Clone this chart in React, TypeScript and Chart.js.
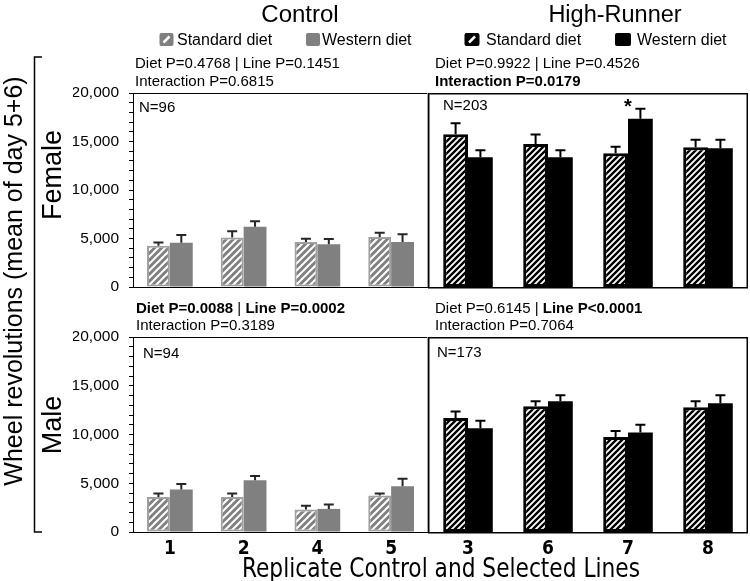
import React, { useEffect, useRef } from 'react';
import { Chart, registerables } from 'chart.js';

Chart.register(...registerables);

// ---------------- data ----------------
const controlLines = ['1', '2', '4', '5'];
const highRunnerLines = ['3', '6', '7', '8'];

const femaleControlStandard = [4250, 5100, 4650, 5150];
const femaleControlStandardSE = [350, 650, 330, 450];
const femaleControlWestern = [4550, 6200, 4400, 4650];
const femaleControlWesternSE = [800, 580, 560, 780];

const femaleHRStandard = [15750, 14750, 13800, 14400];
const femaleHRStandardSE = [1130, 960, 650, 790];
const femaleHRWestern = [13370, 13370, 17350, 14300];
const femaleHRWesternSE = [720, 720, 1030, 890];

const maleControlStandard = [3600, 3600, 2300, 3750];
const maleControlStandardSE = [350, 350, 400, 200];
const maleControlWestern = [4350, 5300, 2370, 4700];
const maleControlWesternSE = [580, 450, 450, 750];

const maleHRStandard = [11700, 12900, 9750, 12800];
const maleHRStandardSE = [650, 510, 615, 615];
const maleHRWestern = [10650, 13400, 10200, 13200];
const maleHRWesternSE = [750, 615, 790, 820];

const yLabelledTicks = [0, 5000, 10000, 15000, 20000];
const yMin = 0;
const yMax = 20000;
const yMinorStep = 1000;

const femaleSignificantIndex = 2; // line 7, western diet (*)

const seriesNames = ['Standard diet', 'Western diet'];

// ---------------- styling ----------------
const FONT = '"Liberation Sans", Arial, Helvetica, sans-serif';
const NARROW = '"Liberation Sans Narrow", "Arial Narrow", "DejaVu Sans Condensed", "Liberation Sans", sans-serif';
const GRAY = '#808080';

function hatch(bg: string, fg: string, size: number, lw: number) {
  const c = document.createElement('canvas');
  c.width = size;
  c.height = size;
  const g = c.getContext('2d')!;
  g.fillStyle = bg;
  g.fillRect(0, 0, size, size);
  g.strokeStyle = fg;
  g.lineWidth = lw;
  g.beginPath();
  g.moveTo(0, size);
  g.lineTo(size, 0);
  g.moveTo(-2, 2);
  g.lineTo(2, -2);
  g.moveTo(size - 2, size + 2);
  g.lineTo(size + 2, size - 2);
  g.stroke();
  return g.createPattern(c, 'repeat')!;
}

type PanelProps = {
  x: number;
  y: number;
  w: number;
  h: number;
  labels: string[];
  std: number[];
  stdSE: number[];
  west: number[];
  westSE: number[];
  line: 'control' | 'hr';
  showX: boolean;
  pad: { left: number; right: number; top: number; bottom: number };
  star?: number;
};

function Panel(p: PanelProps) {
  const ref = useRef<HTMLCanvasElement | null>(null);
  useEffect(() => {
    const canvas = ref.current!;
    const isC = p.line === 'control';
    const stdFill = isC ? hatch(GRAY, '#ffffff', 7, 2) : hatch('#ffffff', '#000000', 6, 2.4);
    const errColor = isC ? '#262626' : '#000000';

    const errPlugin = {
      id: 'errbars',
      afterDatasetsDraw(chart: any) {
        const ctx = chart.ctx;
        const ys = chart.scales.y;
        const xs = chart.scales.x;
        const ses = [p.stdSE, p.westSE];
        chart.data.datasets.forEach((ds: any, di: number) => {
          const meta = chart.getDatasetMeta(di);
          meta.data.forEach((bar: any, i: number) => {
            const v = ds.data[i];
            const e = ses[di][i];
            const yb = ys.getPixelForValue(v);
            const yt = ys.getPixelForValue(v + e);
            ctx.save();
            ctx.strokeStyle = errColor;
            ctx.lineWidth = 2;
            ctx.beginPath();
            ctx.moveTo(bar.x, yb);
            ctx.lineTo(bar.x, yt);
            ctx.moveTo(bar.x - 5, yt);
            ctx.lineTo(bar.x + 5, yt);
            ctx.stroke();
            if (p.star === i && di === 1) {
              ctx.fillStyle = '#000';
              ctx.font = 'bold 20px ' + FONT;
              ctx.textAlign = 'center';
              ctx.textBaseline = 'alphabetic';
              ctx.fillText('*', xs.getPixelForValue(i), yt + 4);
            }
            ctx.restore();
          });
        });
      },
    };

    const boxPlugin = {
      id: 'box',
      afterDraw(chart: any) {
        const ctx = chart.ctx;
        const a = chart.chartArea;
        ctx.save();
        ctx.lineWidth = 1;
        if (isC) {
          ctx.strokeStyle = '#000';
          ctx.beginPath();
          ctx.moveTo(a.left, a.top + 0.5);
          ctx.lineTo(a.right, a.top + 0.5);
          ctx.moveTo(a.left, a.bottom + 0.5);
          ctx.lineTo(a.right, a.bottom + 0.5);
          ctx.stroke();
          ctx.strokeStyle = '#a6a6a6';
          ctx.beginPath();
          ctx.moveTo(a.right - 0.5, a.top);
          ctx.lineTo(a.right - 0.5, a.bottom);
          ctx.stroke();
        } else {
          ctx.strokeStyle = '#000';
          ctx.lineWidth = 1.5;
          ctx.strokeRect(a.left + 0.75, a.top + 0.75, a.right - a.left - 1.5, a.bottom - a.top);
        }
        ctx.restore();
      },
    };

    const chart = new Chart(canvas, {
      type: 'bar',
      data: {
        labels: p.labels,
        datasets: [
          {
            label: seriesNames[0],
            data: p.std,
            backgroundColor: stdFill as any,
            borderColor: isC ? '#a0a0a0' : '#000000',
            borderWidth: isC ? 2 : 3,
            borderSkipped: false,
            categoryPercentage: 0.62,
            barPercentage: 1.0,
          },
          {
            label: seriesNames[1],
            data: p.west,
            backgroundColor: isC ? GRAY : '#000000',
            borderWidth: 0,
            categoryPercentage: 0.62,
            barPercentage: 1.0,
          },
        ],
      },
      options: {
        responsive: false,
        animation: false,
        events: [],
        layout: { padding: p.pad },
        plugins: {
          legend: { display: false },
          tooltip: { enabled: false },
          title: { display: false },
        },
        scales: {
          x: {
            type: 'category',
            display: p.showX,
            grid: { display: false, drawTicks: false },
            border: { display: false },
            ticks: {
              display: p.showX,
              color: '#000',
              padding: p.showX ? 6 : 0,
              font: { family: NARROW, size: 19, weight: 'bold' },
            },
            afterFit: (s: any) => {
              s.height = p.showX ? 49 : 0;
            },
          },
          y: {
            display: isC,
            min: yMin,
            max: yMax,
            ticks: {
              stepSize: yMinorStep,
              autoSkip: false,
              color: '#000',
              padding: 10,
              font: { family: FONT, size: 15.5 },
              callback: (v: any) =>
                yLabelledTicks.includes(Number(v)) ? Number(v).toLocaleString('en-US') : '',
            },
            grid: {
              drawOnChartArea: false,
              drawTicks: true,
              tickLength: 4,
              color: '#000',
            },
            border: { display: true, color: '#000', width: 1 },
            afterFit: (s: any) => {
              s.width = isC ? 60 : 0;
            },
          },
        },
      } as any,
      plugins: [errPlugin, boxPlugin],
    });
    return () => chart.destroy();
  }, []);
  return (
    <canvas
      ref={ref}
      width={p.w}
      height={p.h}
      style={{ position: 'absolute', left: p.x, top: p.y, width: p.w, height: p.h }}
    />
  );
}

function Swatch({ x, y, w, fill, slash }: { x: number; y: number; w: number; fill: string; slash?: boolean }) {
  return (
    <g>
      <rect x={x} y={y} width={w} height={13} rx={2} fill={fill} />
      {slash ? (
        <line x1={x + w / 2 - 3} y1={y + 9.5} x2={x + w / 2 + 3} y2={y + 3.5} stroke="#fff" strokeWidth={2.5} />
      ) : null}
    </g>
  );
}

export default function App() {
  // female canvases are 307 tall; chart area spans 93..287
  const ctlPadF = { left: 73, right: 4, top: 93, bottom: 20 };
  const hrPadF = { left: 8, right: 2, top: 93, bottom: 20 };
  // male canvases start at 300; chart area spans 337..532
  const ctlPadM = { left: 73, right: 4, top: 37, bottom: 0 };
  const hrPadM = { left: 8, right: 2, top: 37, bottom: 0 };
  return (
    <div
      style={{
        position: 'fixed',
        left: 0,
        top: 0,
        width: 750,
        height: 581,
        background: '#fff',
        overflow: 'hidden',
      }}
    >
      <Panel x={0} y={0} w={432} h={307} labels={controlLines} std={femaleControlStandard} stdSE={femaleControlStandardSE}
        west={femaleControlWestern} westSE={femaleControlWesternSE} line="control" showX={false} pad={ctlPadF} />
      <Panel x={420} y={0} w={330} h={307} labels={highRunnerLines} std={femaleHRStandard} stdSE={femaleHRStandardSE}
        west={femaleHRWestern} westSE={femaleHRWesternSE} line="hr" showX={false} pad={hrPadF} star={femaleSignificantIndex} />
      <Panel x={0} y={300} w={432} h={281} labels={controlLines} std={maleControlStandard} stdSE={maleControlStandardSE}
        west={maleControlWestern} westSE={maleControlWesternSE} line="control" showX={true} pad={ctlPadM} />
      <Panel x={420} y={300} w={330} h={281} labels={highRunnerLines} std={maleHRStandard} stdSE={maleHRStandardSE}
        west={maleHRWestern} westSE={maleHRWesternSE} line="hr" showX={true} pad={hrPadM} />

      <svg width={750} height={581} style={{ position: 'absolute', left: 0, top: 0, pointerEvents: 'none' }}
        fontFamily={FONT} fill="#000">
        <text x={300} y={22} fontSize={24} textAnchor="middle">Control</text>
        <text x={615} y={22} fontSize={23.5} textAnchor="middle">High-Runner</text>

        <Swatch x={159.5} y={33} w={14} fill={GRAY} slash />
        <text x={177} y={45} fontSize={16}>{seriesNames[0]}</text>
        <Swatch x={306} y={33} w={14} fill={GRAY} />
        <text x={322} y={45} fontSize={16}>{seriesNames[1]}</text>
        <Swatch x={464.5} y={33} w={15} fill="#000" slash />
        <text x={486} y={45} fontSize={16}>{seriesNames[0]}</text>
        <Swatch x={615} y={33} w={16} fill="#000" />
        <text x={637} y={45} fontSize={16}>{seriesNames[1]}</text>

        <text x={135} y={68} fontSize={15}>Diet P=0.4768 | Line P=0.1451</text>
        <text x={135} y={86} fontSize={15}>Interaction P=0.6815</text>
        <text x={435} y={68} fontSize={15}>Diet P=0.9922 | Line P=0.4526</text>
        <text x={435} y={86} fontSize={15} fontWeight="bold">Interaction P=0.0179</text>

        <text x={136} y={313} fontSize={15}>
          <tspan fontWeight="bold">Diet P=0.0088</tspan> | <tspan fontWeight="bold">Line P=0.0002</tspan>
        </text>
        <text x={136} y={330} fontSize={15}>Interaction P=0.3189</text>
        <text x={435} y={313} fontSize={15}>
          Diet P=0.6145 | <tspan fontWeight="bold">Line P&lt;0.0001</tspan>
        </text>
        <text x={435} y={330} fontSize={15}>Interaction P=0.7064</text>

        <text x={139} y={112} fontSize={15}>N=96</text>
        <text x={443} y={110} fontSize={15}>N=203</text>
        <text x={143} y={358} fontSize={15}>N=94</text>
        <text x={437} y={357} fontSize={15}>N=173</text>

        <text transform="translate(22,281) rotate(-90)" fontSize={25} textAnchor="middle">
          Wheel revolutions (mean of day 5+6)
        </text>
        <text transform="translate(61,175) rotate(-90)" fontSize={27} textAnchor="middle">Female</text>
        <text transform="translate(61,425) rotate(-90)" fontSize={27} textAnchor="middle">Male</text>
        <path d="M42 57 H34.5 V532 H42" fill="none" stroke="#000" strokeWidth={1.5} />

        <text x={441} y={577} fontSize={27} fontFamily={NARROW} textAnchor="middle" textLength={398}
          lengthAdjust="spacingAndGlyphs">
          Replicate Control and Selected Lines
        </text>
      </svg>
    </div>
  );
}
